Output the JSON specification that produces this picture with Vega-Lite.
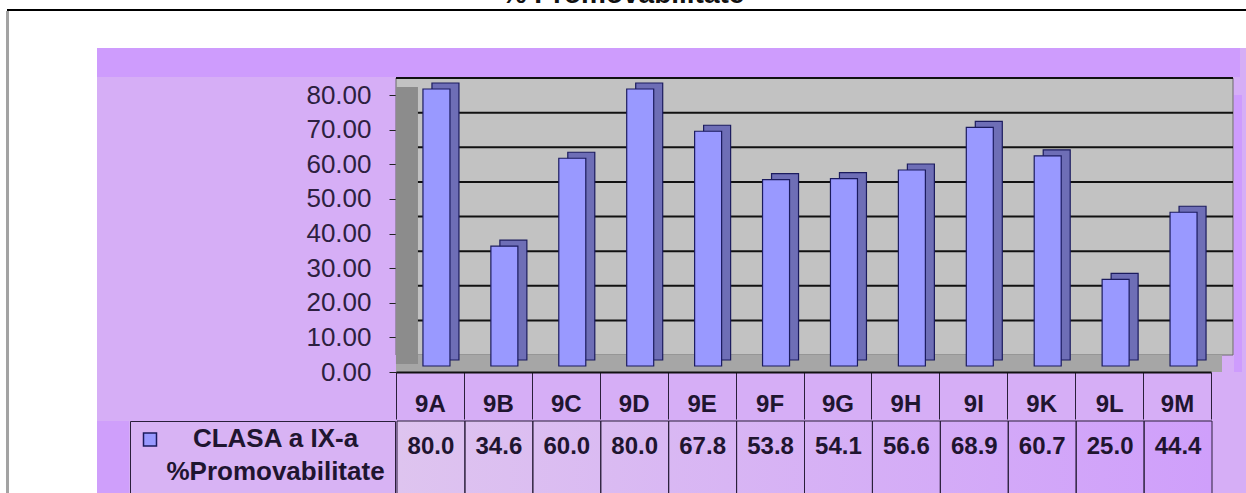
{
  "$schema": "https://vega.github.io/schema/vega-lite/v6.json",
  "padding": 0,
  "background": "#d6aef6",
  "spacing": 0,
  "config": {"view": {"stroke": null}, "font": "Liberation Sans"},
  "datasets": {
    "blank": [{"k": 1}],
    "bars": [
      {"clasa": "9A", "pct": 80.0},
      {"clasa": "9B", "pct": 34.6},
      {"clasa": "9C", "pct": 60.0},
      {"clasa": "9D", "pct": 80.0},
      {"clasa": "9E", "pct": 67.8},
      {"clasa": "9F", "pct": 53.8},
      {"clasa": "9G", "pct": 54.1},
      {"clasa": "9H", "pct": 56.6},
      {"clasa": "9I", "pct": 68.9},
      {"clasa": "9K", "pct": 60.7},
      {"clasa": "9L", "pct": 25.0},
      {"clasa": "9M", "pct": 44.4}
    ],
    "wall": [{"lo": 0, "hi": 80}],
    "grid": [{"v": 10}, {"v": 20}, {"v": 30}, {"v": 40}, {"v": 50}, {"v": 60}, {"v": 70}, {"v": 80}],
    "series": [{"series": "CLASA a IX-a %Promovabilitate", "label": "CLASA a IX-a\n%Promovabilitate"}]
  },
  "vconcat": [
    {
      "data": {"name": "blank"},
      "width": 1246, "height": 9,
      "view": {"fill": "#ffffff"},
      "mark": {"type": "text", "text": "% Promovabilitate", "fontSize": 28, "fontWeight": "bold", "baseline": "alphabetic", "dy": -1.5, "clip": true, "color": "#111111"}
    },
    {
      "spacing": 0,
      "hconcat": [
        {"data": {"name": "blank"}, "width": 7, "height": 2, "view": {"fill": "#ffffff"}, "mark": {"type": "point", "opacity": 0, "size": 0, "strokeWidth": 0}},
        {"data": {"name": "blank"}, "width": 1239, "height": 2, "view": {"fill": "#000000"}, "mark": {"type": "point", "opacity": 0, "size": 0, "strokeWidth": 0}}
      ]
    },
    {
      "spacing": 0,
      "hconcat": [
        {"data": {"name": "blank"}, "width": 6, "height": 482, "view": {"fill": "#ffffff"}, "mark": {"type": "point", "opacity": 0, "size": 0, "strokeWidth": 0}},
        {"data": {"name": "blank"}, "width": 3, "height": 482, "view": {"fill": "#a3a3a3"}, "mark": {"type": "point", "opacity": 0, "size": 0, "strokeWidth": 0}},
        {"data": {"name": "blank"}, "width": 88, "height": 482, "view": {"fill": "#ffffff"}, "mark": {"type": "point", "opacity": 0, "size": 0, "strokeWidth": 0}},
        {
          "spacing": 0,
          "vconcat": [
            {"data": {"name": "blank"}, "width": 1149, "height": 37, "view": {"fill": "#ffffff"}, "mark": {"type": "point", "opacity": 0, "size": 0, "strokeWidth": 0}},
            {"data": {"name": "blank"}, "width": 1143, "height": 29, "view": {"fill": "#ce9cfd"}, "mark": {"type": "point", "opacity": 0, "size": 0, "strokeWidth": 0}},
            {
              "spacing": 0,
              "hconcat": [
                {"data": {"name": "blank"}, "width": 208, "height": 277, "mark": {"type": "point", "opacity": 0, "size": 0, "strokeWidth": 0}},
                {
                  "width": 815, "height": 277,
                  "layer": [
                    {
                      "data": {"name": "wall"},
                      "mark": {"type": "rect", "color": "#c2c2c2", "stroke": "#6a6a6a", "strokeWidth": 1, "xOffset": 22, "x2Offset": 22, "yOffset": -17, "y2Offset": -17},
                      "encoding": {
                        "y": {"field": "lo", "type": "quantitative", "scale": {"domain": [0, 80], "nice": false},
                          "axis": {"title": null, "values": [0, 10, 20, 30, 40, 50, 60, 70, 80], "format": ".2f", "labelOverlap": false, "labelFontSize": 26, "labelColor": "#2d1f40", "labelPadding": 18, "tickSize": 7, "tickColor": "#222222", "domainColor": "#333333", "grid": false}},
                        "y2": {"field": "hi"}
                      }
                    },
                    {
                      "data": {"name": "grid"},
                      "mark": {"type": "rule", "color": "#111111", "strokeWidth": 2, "xOffset": 22, "x2Offset": 22, "yOffset": -17},
                      "encoding": {"y": {"field": "v", "type": "quantitative",
                          "axis": {"title": null, "values": [0, 10, 20, 30, 40, 50, 60, 70, 80], "format": ".2f", "labelOverlap": false, "labelFontSize": 26, "labelColor": "#2d1f40", "labelPadding": 18, "tickSize": 7, "tickColor": "#222222", "domainColor": "#333333", "grid": false}}}
                    },
                    {
                      "data": {"name": "wall"},
                      "mark": {"type": "rect", "color": "#a6a6a6", "xOffset": 11, "x2Offset": 11, "y2Offset": -17},
                      "encoding": {
                        "y": {"field": "lo", "type": "quantitative",
                          "axis": {"title": null, "values": [0, 10, 20, 30, 40, 50, 60, 70, 80], "format": ".2f", "labelOverlap": false, "labelFontSize": 26, "labelColor": "#2d1f40", "labelPadding": 18, "tickSize": 7, "tickColor": "#222222", "domainColor": "#333333", "grid": false}},
                        "y2": {"field": "lo"}
                      }
                    },
                    {
                      "data": {"name": "wall"},
                      "mark": {"type": "rect", "color": "#8c8c8c", "width": 22, "xOffset": -23, "yOffset": -8, "y2Offset": -8},
                      "encoding": {
                        "x": {"datum": "9A", "type": "nominal",
                          "axis": {"title": null, "labelAngle": 0, "labelAlign": "center", "labelFontSize": 24, "labelFontWeight": "bold", "labelColor": "#1f1530", "labelBaseline": "middle", "labelPadding": -15, "tickBand": "extent", "tickSize": 47, "tickColor": "#2a1f3a", "tickWidth": 1, "domainColor": "#111111", "domainWidth": 2, "grid": false}},
                        "y": {"field": "lo", "type": "quantitative",
                          "axis": {"title": null, "values": [0, 10, 20, 30, 40, 50, 60, 70, 80], "format": ".2f", "labelOverlap": false, "labelFontSize": 26, "labelColor": "#2d1f40", "labelPadding": 18, "tickSize": 7, "tickColor": "#222222", "domainColor": "#333333", "grid": false}},
                        "y2": {"field": "hi"}
                      }
                    },
                    {
                      "data": {"name": "bars"},
                      "mark": {"type": "bar", "width": 27, "color": "#6e6eb6", "stroke": "#1b1b5e", "strokeWidth": 1.2, "xOffset": 15.5, "yOffset": -12, "y2Offset": -12},
                      "encoding": {
                        "x": {"field": "clasa", "type": "nominal", "sort": null, "scale": {"paddingInner": 0, "paddingOuter": 0},
                          "axis": {"title": null, "labelAngle": 0, "labelAlign": "center", "labelFontSize": 24, "labelFontWeight": "bold", "labelColor": "#1f1530", "labelBaseline": "middle", "labelPadding": -15, "tickBand": "extent", "tickSize": 47, "tickColor": "#2a1f3a", "tickWidth": 1, "domainColor": "#111111", "domainWidth": 2, "grid": false}},
                        "y": {"field": "pct", "type": "quantitative",
                          "axis": {"title": null, "values": [0, 10, 20, 30, 40, 50, 60, 70, 80], "format": ".2f", "labelOverlap": false, "labelFontSize": 26, "labelColor": "#2d1f40", "labelPadding": 18, "tickSize": 7, "tickColor": "#222222", "domainColor": "#333333", "grid": false}}
                      }
                    },
                    {
                      "data": {"name": "bars"},
                      "mark": {"type": "bar", "width": 27, "color": "#9999ff", "stroke": "#1b1b5e", "strokeWidth": 1.2, "xOffset": 6.5, "yOffset": -6, "y2Offset": -6},
                      "encoding": {
                        "x": {"field": "clasa", "type": "nominal", "sort": null,
                          "axis": {"title": null, "labelAngle": 0, "labelAlign": "center", "labelFontSize": 24, "labelFontWeight": "bold", "labelColor": "#1f1530", "labelBaseline": "middle", "labelPadding": -15, "tickBand": "extent", "tickSize": 47, "tickColor": "#2a1f3a", "tickWidth": 1, "domainColor": "#111111", "domainWidth": 2, "grid": false}},
                        "y": {"field": "pct", "type": "quantitative",
                          "axis": {"title": null, "values": [0, 10, 20, 30, 40, 50, 60, 70, 80], "format": ".2f", "labelOverlap": false, "labelFontSize": 26, "labelColor": "#2d1f40", "labelPadding": 18, "tickSize": 7, "tickColor": "#222222", "domainColor": "#333333", "grid": false}}
                      }
                    }
                  ]
                },
                {"data": {"name": "blank"}, "width": 8, "height": 277, "view": {"fill": "#ce9cfd"}, "mark": {"type": "point", "opacity": 0, "size": 0, "strokeWidth": 0}}
              ]
            },
            {
              "spacing": 0,
              "hconcat": [
                {"data": {"name": "blank"}, "width": 32, "height": 75, "view": {"fill": "#cf9ffb"}, "mark": {"type": "point", "opacity": 0, "size": 0, "strokeWidth": 0}},
                {
                  "width": 265, "height": 75,
                  "view": {"fill": "#d8b3f4", "stroke": "#2a1f3a", "strokeWidth": 1},
                  "data": {"name": "series"},
                  "layer": [
                    {
                      "mark": {"type": "point", "shape": "square", "size": 169, "filled": true, "fill": "#9999ff", "stroke": "#1b1b5e", "strokeWidth": 1.5, "opacity": 1, "xOffset": -112.5, "yOffset": -19}
                    },
                    {
                      "mark": {"type": "text", "fontSize": 26, "fontWeight": "bold", "color": "#1f1530", "lineBreak": "\n", "lineHeight": 33, "dx": 13, "dy": -19.5},
                      "encoding": {"text": {"field": "label"}}
                    }
                  ]
                },
                {
                  "width": 815, "height": 75,
                  "view": {"fill": {"gradient": "linear", "x1": 0, "y1": 0, "x2": 1, "y2": 0, "stops": [{"offset": 0, "color": "#dec4ef"}, {"offset": 1, "color": "#cf9ffb"}]}},
                  "data": {"name": "bars"},
                  "encoding": {"x": {"field": "clasa", "type": "nominal", "sort": null, "scale": {"paddingInner": 0, "paddingOuter": 0}, "axis": null}},
                  "layer": [
                    {"mark": {"type": "rect", "fill": "transparent", "stroke": "#2a1f3a", "strokeWidth": 1}},
                    {
                      "mark": {"type": "text", "fontSize": 24, "fontWeight": "bold", "color": "#1f1530", "dy": -12},
                      "encoding": {"text": {"field": "pct", "type": "quantitative", "format": ".1f"}}
                    }
                  ]
                }
              ]
            }
          ]
        }
      ]
    }
  ]
}
